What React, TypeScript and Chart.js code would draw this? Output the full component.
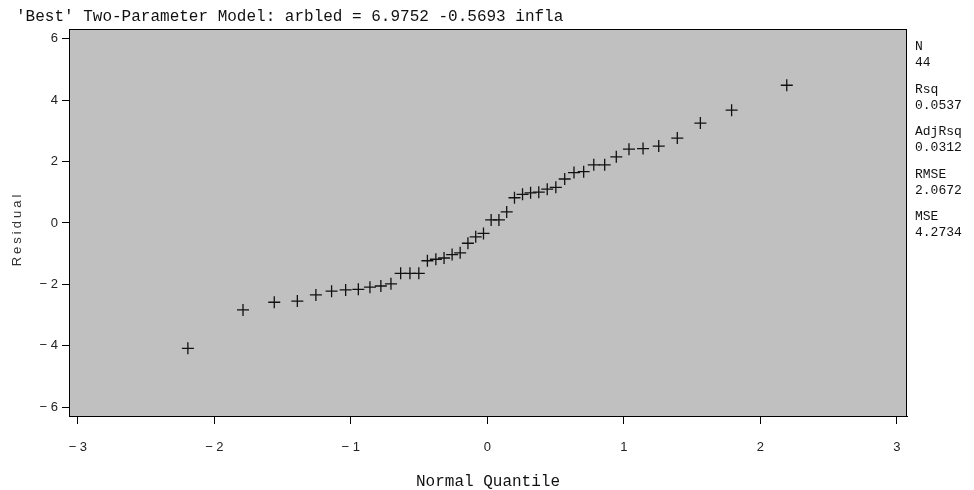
import React, { useEffect, useRef } from "react";
import { Chart, registerables } from "chart.js";

Chart.register(...registerables);

// Normal quantiles (x) and residuals (y)
const quantiles = [
  -2.194, -1.79, -1.561, -1.392, -1.256, -1.141, -1.038, -0.945, -0.86, -0.78, -0.706,
  -0.635, -0.567, -0.502, -0.439, -0.377, -0.317, -0.258, -0.199, -0.142, -0.085, -0.028,
  0.028, 0.085, 0.142, 0.199, 0.258, 0.317, 0.377, 0.439, 0.502, 0.567, 0.635,
  0.706, 0.78, 0.86, 0.945, 1.038, 1.141, 1.256, 1.392, 1.561, 1.79, 2.194,
];
const residuals = [
  -4.08, -2.83, -2.58, -2.54, -2.34, -2.22, -2.18, -2.16, -2.09, -2.05, -1.98,
  -1.64, -1.64, -1.64, -1.23, -1.18, -1.14, -1.03, -0.97, -0.66, -0.45, -0.34,
  0.1, 0.1, 0.36, 0.82, 0.93, 0.98, 1.0, 1.1, 1.16, 1.43, 1.64,
  1.67, 1.89, 1.89, 2.15, 2.4, 2.42, 2.5, 2.76, 3.25, 3.67, 4.48,
];
const xTicks = [-3, -2, -1, 0, 1, 2, 3];
const yTicks = [-6, -4, -2, 0, 2, 4, 6];
const titleText = "'Best' Two-Parameter Model: arbled = 6.9752 -0.5693 infla";
const xTitle = "Normal Quantile";
const yTitle = "Residual";
const statLabels = ["N", "Rsq", "AdjRsq", "RMSE", "MSE"];
const statValues = ["44", "0.0537", "0.0312", "2.0672", "4.2734"];

export default function App() {
  const ref = useRef<HTMLCanvasElement | null>(null);

  useEffect(() => {
    document.body.style.margin = "0";
    const canvas = ref.current!;
    const decor = {
      id: "decor",
      beforeDatasetsDraw(chart: any) {
        const { ctx, chartArea: a } = chart;
        ctx.save();
        ctx.fillStyle = "#c0c0c0";
        ctx.fillRect(a.left, a.top, a.right - a.left, a.bottom - a.top);
        ctx.restore();
      },
      afterDraw(chart: any) {
        const { ctx, chartArea: a } = chart;
        ctx.save();
        ctx.strokeStyle = "#000";
        ctx.lineWidth = 1;
        ctx.strokeRect(a.left + 0.5, a.top + 0.5, a.right - a.left - 1, a.bottom - a.top);
        ctx.fillStyle = "#111";
        ctx.font = "16px 'Liberation Mono'";
        ctx.textAlign = "left";
        ctx.textBaseline = "alphabetic";
        ctx.fillText(titleText, 16, 21);
        ctx.textAlign = "center";
        ctx.fillText(xTitle, (a.left + a.right) / 2, 486);
        ctx.font = "13px 'Liberation Mono'";
        ctx.textAlign = "left";
        ctx.textBaseline = "middle";
        statLabels.forEach((l, i) => {
          const y0 = 47 + i * 42.5;
          ctx.fillText(l, 915, y0);
          ctx.fillText(statValues[i], 915, y0 + 16);
        });
        ctx.translate(17, 229);
        ctx.rotate(-Math.PI / 2);
        ctx.font = "13px 'Liberation Sans'";
        (ctx as any).letterSpacing = "3px";
        ctx.fillStyle = "#333";
        ctx.textAlign = "center";
        ctx.fillText(yTitle, 0, 0);
        ctx.restore();
      },
    };

    const chart = new Chart(canvas, {
      type: "scatter",
      data: {
        datasets: [
          {
            data: quantiles.map((q, i) => ({ x: q, y: residuals[i] })),
            pointStyle: "cross",
            pointRadius: 6,
            pointBorderWidth: 1.3,
            borderColor: "#111",
            backgroundColor: "#111",
          },
        ],
      },
      options: {
        animation: false,
        responsive: false,
        events: [],
        layout: { padding: { left: 0, top: 29, right: 67, bottom: 0 } },
        plugins: { legend: { display: false }, tooltip: { enabled: false }, title: { display: false } },
        scales: {
          x: {
            type: "linear",
            min: -3.065,
            max: 3.075,
            afterFit: (s: any) => { s.height = 74; },
            afterBuildTicks: (s: any) => { s.ticks = xTicks.map((v) => ({ value: v })); },
            grid: { drawOnChartArea: false, tickLength: 8, color: "#000", tickColor: "#000" },
            border: { display: true, color: "#000", width: 1 },
            ticks: {
              padding: 16,
              color: "#222",
              font: { family: "'Liberation Sans'", size: 13 },
              maxRotation: 0,
              callback: (v: any) => String(v).replace("-", "\u2212 "),
            },
          },
          y: {
            type: "linear",
            min: -6.28,
            max: 6.31,
            afterFit: (s: any) => { s.width = 69; },
            afterBuildTicks: (s: any) => { s.ticks = yTicks.map((v) => ({ value: v })); },
            grid: { drawOnChartArea: false, tickLength: 7, color: "#000", tickColor: "#000" },
            border: { display: true, color: "#000", width: 1 },
            ticks: {
              padding: 4,
              color: "#222",
              font: { family: "'Liberation Sans'", size: 13 },
              callback: (v: any) => String(v).replace("-", "\u2212 "),
            },
          },
        },
      },
      plugins: [decor],
    });
    return () => chart.destroy();
  }, []);

  return (
    <div style={{ width: 974, height: 490, background: "#fff" }}>
      <canvas ref={ref} width={974} height={490} style={{ display: "block" }} />
    </div>
  );
}
